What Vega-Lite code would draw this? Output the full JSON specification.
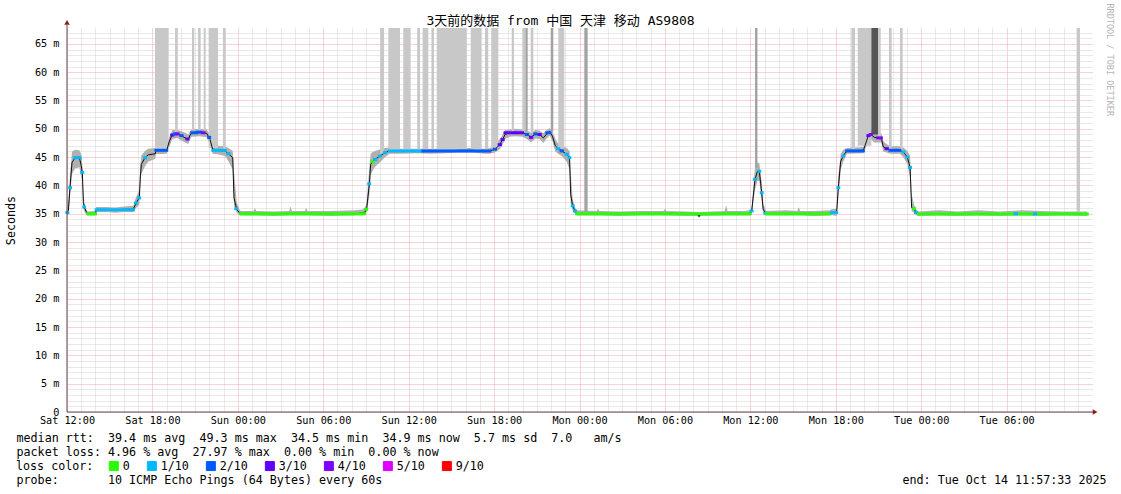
{
  "$schema": "https://vega.github.io/schema/vega-lite/v6.json",
  "width": 1025,
  "height": 384,
  "autosize": {"type": "none"},
  "padding": {"left": 67, "top": 28, "right": 29, "bottom": 82},
  "background": "white",
  "title": {
    "text": "3天前的数据 from 中国 天津 移动 AS9808",
    "font": "DejaVu Sans Mono, Noto Sans CJK SC",
    "fontSize": 13,
    "fontWeight": "normal",
    "color": "#000000",
    "anchor": "middle",
    "dx": -19,
    "dy": 37,
    "offset": 2,
    "baseline": "alphabetic"
  },
  "config": {
    "view": {"stroke": null},
    "font": "DejaVu Sans Mono, Noto Sans CJK SC",
    "axis": {
      "labelFont": "DejaVu Sans Mono, Noto Sans CJK SC",
      "labelFontSize": 10.2,
      "labelColor": "#000000",
      "titleFont": "DejaVu Sans Mono, Noto Sans CJK SC",
      "titleFontSize": 11.7,
      "titleFontWeight": "normal",
      "titleColor": "#000000",
      "ticks": false,
      "tickSize": 0,
      "domain": false,
      "zindex": 0,
      "gridDash": [1, 1],
      "gridWidth": 1,
      "labelFlush": false,
      "labelOverlap": false,
      "labelBound": false
    }
  },
  "datasets": {
    "med": [
      {"t":0.0,"m":35.2,"lo":34.7,"hi":36.0},
      {"t":0.1,"m":35.6,"lo":35.0,"hi":37.5},
      {"t":0.21,"m":39.6,"lo":38.0,"hi":41.5},
      {"t":0.35,"m":44.0,"lo":42.0,"hi":46.0},
      {"t":0.56,"m":44.9,"lo":43.0,"hi":46.3},
      {"t":0.87,"m":44.9,"lo":43.2,"hi":46.2},
      {"t":1.0,"m":43.5,"lo":41.5,"hi":45.5},
      {"t":1.08,"m":42.1,"lo":40.5,"hi":43.5},
      {"t":1.15,"m":37.0,"lo":36.0,"hi":39.0},
      {"t":1.22,"m":36.1,"lo":35.4,"hi":37.0},
      {"t":1.38,"m":35.2,"lo":34.8,"hi":35.7},
      {"t":1.45,"m":35.0,"lo":34.7,"hi":35.4},
      {"t":2.0,"m":35.0,"lo":34.7,"hi":35.5},
      {"t":2.05,"m":35.7,"lo":35.3,"hi":36.2},
      {"t":2.8,"m":35.7,"lo":35.3,"hi":36.2},
      {"t":3.4,"m":35.6,"lo":35.2,"hi":36.1},
      {"t":4.0,"m":35.8,"lo":35.3,"hi":36.3},
      {"t":4.66,"m":35.8,"lo":35.3,"hi":36.4},
      {"t":4.85,"m":36.9,"lo":36.0,"hi":37.9},
      {"t":5.08,"m":37.8,"lo":36.6,"hi":39.2},
      {"t":5.15,"m":41.5,"lo":39.8,"hi":43.6},
      {"t":5.22,"m":43.7,"lo":42.0,"hi":45.3},
      {"t":5.48,"m":44.9,"lo":43.4,"hi":46.1},
      {"t":5.7,"m":45.4,"lo":44.2,"hi":46.5},
      {"t":6.2,"m":45.6,"lo":44.7,"hi":46.6},
      {"t":6.25,"m":46.2,"lo":45.5,"hi":46.9},
      {"t":7.0,"m":46.2,"lo":45.6,"hi":47.0},
      {"t":7.19,"m":47.8,"lo":46.8,"hi":48.6},
      {"t":7.4,"m":49.0,"lo":48.2,"hi":49.8},
      {"t":7.75,"m":49.1,"lo":48.4,"hi":49.8},
      {"t":8.0,"m":48.8,"lo":48.0,"hi":49.6},
      {"t":8.3,"m":48.4,"lo":47.6,"hi":49.3},
      {"t":8.52,"m":48.1,"lo":47.3,"hi":49.0},
      {"t":8.65,"m":48.9,"lo":48.2,"hi":49.6},
      {"t":8.76,"m":49.3,"lo":48.6,"hi":49.9},
      {"t":9.3,"m":49.4,"lo":48.7,"hi":50.0},
      {"t":9.81,"m":49.2,"lo":48.5,"hi":49.9},
      {"t":10.05,"m":48.1,"lo":47.2,"hi":49.0},
      {"t":10.23,"m":46.4,"lo":45.6,"hi":47.4},
      {"t":10.6,"m":46.2,"lo":45.5,"hi":47.0},
      {"t":11.1,"m":46.1,"lo":45.2,"hi":46.9},
      {"t":11.33,"m":45.6,"lo":44.3,"hi":46.6},
      {"t":11.64,"m":44.9,"lo":42.8,"hi":46.1},
      {"t":11.73,"m":37.8,"lo":36.4,"hi":42.5},
      {"t":11.92,"m":35.8,"lo":35.2,"hi":37.0},
      {"t":12.1,"m":35.2,"lo":34.8,"hi":35.8},
      {"t":12.2,"m":35.0,"lo":34.7,"hi":35.5},
      {"t":13.1,"m":35.0,"lo":34.7,"hi":35.5},
      {"t":13.2,"m":35.0,"lo":34.7,"hi":36.0},
      {"t":13.3,"m":35.0,"lo":34.7,"hi":35.5},
      {"t":14.5,"m":34.9,"lo":34.6,"hi":35.4},
      {"t":15.6,"m":35.0,"lo":34.7,"hi":35.5},
      {"t":15.7,"m":35.0,"lo":34.7,"hi":36.3},
      {"t":15.8,"m":35.0,"lo":34.7,"hi":35.5},
      {"t":16.7,"m":35.0,"lo":34.7,"hi":35.5},
      {"t":16.8,"m":35.0,"lo":34.7,"hi":36.0},
      {"t":16.9,"m":35.0,"lo":34.7,"hi":35.5},
      {"t":18.5,"m":34.9,"lo":34.6,"hi":35.5},
      {"t":20.2,"m":35.0,"lo":34.7,"hi":35.6},
      {"t":20.9,"m":35.2,"lo":34.8,"hi":35.8},
      {"t":21.05,"m":35.9,"lo":35.3,"hi":37.0},
      {"t":21.24,"m":40.3,"lo":38.3,"hi":43.2},
      {"t":21.33,"m":43.7,"lo":41.8,"hi":45.6},
      {"t":21.47,"m":44.2,"lo":42.6,"hi":45.9},
      {"t":21.64,"m":44.6,"lo":43.3,"hi":46.1},
      {"t":21.99,"m":45.2,"lo":44.1,"hi":46.4},
      {"t":22.34,"m":45.8,"lo":45.0,"hi":46.6},
      {"t":22.64,"m":46.1,"lo":45.6,"hi":46.7},
      {"t":23.5,"m":46.0,"lo":45.6,"hi":46.5},
      {"t":24.5,"m":46.1,"lo":45.7,"hi":46.5},
      {"t":25.5,"m":46.0,"lo":45.6,"hi":46.5},
      {"t":26.5,"m":46.1,"lo":45.7,"hi":46.5},
      {"t":27.5,"m":46.2,"lo":45.8,"hi":46.6},
      {"t":28.5,"m":46.2,"lo":45.8,"hi":46.6},
      {"t":29.3,"m":46.0,"lo":45.6,"hi":46.5},
      {"t":29.7,"m":46.1,"lo":45.6,"hi":46.6},
      {"t":30.06,"m":46.4,"lo":45.8,"hi":47.2},
      {"t":30.4,"m":47.2,"lo":46.4,"hi":48.2},
      {"t":30.6,"m":48.1,"lo":47.2,"hi":49.0},
      {"t":30.77,"m":49.0,"lo":48.2,"hi":49.8},
      {"t":31.1,"m":49.3,"lo":48.6,"hi":49.9},
      {"t":31.5,"m":49.4,"lo":48.7,"hi":50.0},
      {"t":32.0,"m":49.3,"lo":48.6,"hi":49.9},
      {"t":32.3,"m":49.0,"lo":48.2,"hi":49.7},
      {"t":32.6,"m":48.5,"lo":47.6,"hi":49.3},
      {"t":32.9,"m":49.1,"lo":48.3,"hi":49.8},
      {"t":33.2,"m":49.0,"lo":48.2,"hi":49.7},
      {"t":33.46,"m":48.4,"lo":47.5,"hi":49.2},
      {"t":33.7,"m":49.1,"lo":48.3,"hi":49.8},
      {"t":33.9,"m":49.5,"lo":48.8,"hi":50.1},
      {"t":34.1,"m":48.7,"lo":47.8,"hi":49.6},
      {"t":34.3,"m":47.0,"lo":46.0,"hi":48.2},
      {"t":34.5,"m":46.5,"lo":45.6,"hi":47.4},
      {"t":34.75,"m":46.1,"lo":45.2,"hi":47.0},
      {"t":35.1,"m":45.5,"lo":44.2,"hi":46.6},
      {"t":35.3,"m":44.9,"lo":42.8,"hi":46.1},
      {"t":35.38,"m":38.4,"lo":36.8,"hi":42.5},
      {"t":35.52,"m":36.4,"lo":35.6,"hi":37.6},
      {"t":35.68,"m":35.5,"lo":35.0,"hi":36.2},
      {"t":35.8,"m":35.0,"lo":34.7,"hi":35.6},
      {"t":37.2,"m":35.0,"lo":34.7,"hi":35.5},
      {"t":37.3,"m":35.0,"lo":34.7,"hi":35.9},
      {"t":37.4,"m":35.0,"lo":34.7,"hi":35.5},
      {"t":38.8,"m":34.9,"lo":34.6,"hi":35.4},
      {"t":40.3,"m":35.0,"lo":34.7,"hi":35.5},
      {"t":41.9,"m":35.0,"lo":34.7,"hi":35.5},
      {"t":42.0,"m":35.0,"lo":34.7,"hi":35.9},
      {"t":42.1,"m":35.0,"lo":34.7,"hi":35.5},
      {"t":43.5,"m":34.9,"lo":34.6,"hi":35.4},
      {"t":44.3,"m":34.9,"lo":34.6,"hi":35.3},
      {"t":44.4,"m":34.5,"lo":34.3,"hi":35.0},
      {"t":44.5,"m":34.9,"lo":34.6,"hi":35.3},
      {"t":46.2,"m":35.0,"lo":34.7,"hi":35.5},
      {"t":46.3,"m":35.0,"lo":34.7,"hi":36.5},
      {"t":46.4,"m":35.0,"lo":34.7,"hi":35.5},
      {"t":47.5,"m":35.0,"lo":34.7,"hi":35.5},
      {"t":48.0,"m":35.1,"lo":34.7,"hi":35.6},
      {"t":48.1,"m":35.5,"lo":35.0,"hi":36.3},
      {"t":48.33,"m":41.1,"lo":39.3,"hi":43.2},
      {"t":48.5,"m":42.5,"lo":40.8,"hi":44.1},
      {"t":48.63,"m":42.5,"lo":40.8,"hi":43.9},
      {"t":48.8,"m":38.7,"lo":37.3,"hi":40.7},
      {"t":48.9,"m":35.8,"lo":35.2,"hi":36.8},
      {"t":49.08,"m":35.1,"lo":34.7,"hi":35.6},
      {"t":49.15,"m":35.0,"lo":34.7,"hi":35.5},
      {"t":50.5,"m":35.0,"lo":34.7,"hi":35.6},
      {"t":51.3,"m":35.0,"lo":34.7,"hi":35.5},
      {"t":51.4,"m":35.0,"lo":34.7,"hi":36.2},
      {"t":51.5,"m":35.0,"lo":34.7,"hi":35.5},
      {"t":52.5,"m":34.9,"lo":34.6,"hi":35.5},
      {"t":53.6,"m":35.0,"lo":34.7,"hi":35.6},
      {"t":53.7,"m":35.2,"lo":34.8,"hi":35.8},
      {"t":54.06,"m":35.2,"lo":34.6,"hi":35.9},
      {"t":54.18,"m":39.6,"lo":37.8,"hi":41.7},
      {"t":54.35,"m":44.3,"lo":42.8,"hi":45.6},
      {"t":54.53,"m":45.2,"lo":44.2,"hi":46.3},
      {"t":54.77,"m":46.1,"lo":45.6,"hi":46.6},
      {"t":55.94,"m":46.2,"lo":45.7,"hi":46.8},
      {"t":56.05,"m":47.0,"lo":46.2,"hi":47.8},
      {"t":56.29,"m":48.8,"lo":48.0,"hi":49.6},
      {"t":56.46,"m":49.0,"lo":48.2,"hi":49.8},
      {"t":56.7,"m":48.5,"lo":47.6,"hi":49.5},
      {"t":57.0,"m":48.4,"lo":47.6,"hi":49.2},
      {"t":57.2,"m":48.4,"lo":47.6,"hi":49.2},
      {"t":57.34,"m":46.8,"lo":46.0,"hi":47.8},
      {"t":57.58,"m":46.5,"lo":45.8,"hi":47.3},
      {"t":57.81,"m":46.2,"lo":45.6,"hi":46.9},
      {"t":58.51,"m":46.2,"lo":45.6,"hi":46.9},
      {"t":58.75,"m":45.9,"lo":45.0,"hi":46.7},
      {"t":59.03,"m":45.0,"lo":43.8,"hi":46.1},
      {"t":59.22,"m":43.2,"lo":41.3,"hi":45.2},
      {"t":59.33,"m":36.1,"lo":35.5,"hi":38.5},
      {"t":59.5,"m":35.9,"lo":35.2,"hi":36.6},
      {"t":59.64,"m":35.2,"lo":34.8,"hi":35.8},
      {"t":59.8,"m":34.9,"lo":34.6,"hi":35.4},
      {"t":61.2,"m":35.0,"lo":34.7,"hi":35.6},
      {"t":62.6,"m":34.9,"lo":34.6,"hi":35.4},
      {"t":64.0,"m":35.0,"lo":34.7,"hi":35.6},
      {"t":65.5,"m":34.9,"lo":34.6,"hi":35.4},
      {"t":67.0,"m":35.0,"lo":34.7,"hi":35.6},
      {"t":68.5,"m":34.9,"lo":34.6,"hi":35.5},
      {"t":70.0,"m":35.0,"lo":34.7,"hi":35.4},
      {"t":71.67,"m":34.9,"lo":34.6,"hi":35.4}
    ],
    "loss": [
      {"t0":0.0,"t1":0.06,"m":35.2,"c":"1/10"},
      {"t0":0.19,"t1":0.25,"m":39.6,"c":"1/10"},
      {"t0":0.52,"t1":0.62,"m":44.9,"c":"1/10"},
      {"t0":0.82,"t1":0.92,"m":44.9,"c":"1/10"},
      {"t0":1.04,"t1":1.1,"m":42.3,"c":"1/10"},
      {"t0":1.18,"t1":1.22,"m":36.2,"c":"1/10"},
      {"t0":1.45,"t1":2.0,"m":35.0,"c":"0"},
      {"t0":2.05,"t1":4.66,"m":35.7,"c":"1/10"},
      {"t0":4.82,"t1":4.88,"m":36.9,"c":"1/10"},
      {"t0":5.04,"t1":5.1,"m":37.8,"c":"1/10"},
      {"t0":5.45,"t1":5.52,"m":44.9,"c":"1/10"},
      {"t0":6.25,"t1":7.0,"m":46.2,"c":"2/10"},
      {"t0":7.36,"t1":7.44,"m":48.9,"c":"3/10"},
      {"t0":7.55,"t1":7.62,"m":49.1,"c":"2/10"},
      {"t0":7.72,"t1":7.8,"m":49.1,"c":"4/10"},
      {"t0":8.0,"t1":8.08,"m":48.8,"c":"2/10"},
      {"t0":8.42,"t1":8.5,"m":48.2,"c":"3/10"},
      {"t0":8.76,"t1":9.1,"m":49.3,"c":"2/10"},
      {"t0":9.15,"t1":9.4,"m":49.4,"c":"2/10"},
      {"t0":9.52,"t1":9.62,"m":49.3,"c":"4/10"},
      {"t0":9.95,"t1":10.02,"m":48.5,"c":"2/10"},
      {"t0":10.25,"t1":11.1,"m":46.2,"c":"1/10"},
      {"t0":11.3,"t1":11.38,"m":45.6,"c":"1/10"},
      {"t0":11.86,"t1":11.92,"m":35.9,"c":"1/10"},
      {"t0":12.2,"t1":20.9,"m":35.0,"c":"0"},
      {"t0":20.95,"t1":21.05,"m":35.8,"c":"0"},
      {"t0":21.2,"t1":21.26,"m":40.3,"c":"1/10"},
      {"t0":21.42,"t1":21.5,"m":44.2,"c":"0"},
      {"t0":21.6,"t1":21.68,"m":44.6,"c":"1/10"},
      {"t0":21.95,"t1":22.03,"m":45.2,"c":"1/10"},
      {"t0":22.3,"t1":22.38,"m":45.8,"c":"1/10"},
      {"t0":22.64,"t1":25.0,"m":46.1,"c":"1/10"},
      {"t0":25.0,"t1":29.7,"m":46.1,"c":"2/10"},
      {"t0":30.02,"t1":30.1,"m":46.4,"c":"2/10"},
      {"t0":30.36,"t1":30.44,"m":47.2,"c":"3/10"},
      {"t0":30.56,"t1":30.64,"m":48.1,"c":"3/10"},
      {"t0":30.77,"t1":32.0,"m":49.3,"c":"3/10"},
      {"t0":32.26,"t1":32.34,"m":49.0,"c":"2/10"},
      {"t0":32.56,"t1":32.64,"m":48.5,"c":"3/10"},
      {"t0":32.86,"t1":32.94,"m":49.1,"c":"2/10"},
      {"t0":33.16,"t1":33.24,"m":49.0,"c":"3/10"},
      {"t0":33.7,"t1":33.92,"m":49.3,"c":"2/10"},
      {"t0":34.46,"t1":34.54,"m":46.5,"c":"1/10"},
      {"t0":34.7,"t1":34.8,"m":46.1,"c":"2/10"},
      {"t0":35.06,"t1":35.14,"m":45.5,"c":"1/10"},
      {"t0":35.27,"t1":35.32,"m":44.9,"c":"1/10"},
      {"t0":35.49,"t1":35.55,"m":36.4,"c":"1/10"},
      {"t0":35.65,"t1":35.71,"m":35.5,"c":"1/10"},
      {"t0":35.8,"t1":48.0,"m":35.0,"c":"0"},
      {"t0":48.05,"t1":48.12,"m":35.5,"c":"1/10"},
      {"t0":48.3,"t1":48.36,"m":41.1,"c":"1/10"},
      {"t0":48.6,"t1":48.66,"m":42.5,"c":"1/10"},
      {"t0":48.77,"t1":48.83,"m":38.7,"c":"1/10"},
      {"t0":49.03,"t1":49.1,"m":35.1,"c":"1/10"},
      {"t0":49.15,"t1":53.6,"m":35.0,"c":"0"},
      {"t0":53.7,"t1":54.06,"m":35.2,"c":"1/10"},
      {"t0":54.15,"t1":54.21,"m":39.6,"c":"1/10"},
      {"t0":54.5,"t1":54.56,"m":45.2,"c":"1/10"},
      {"t0":54.77,"t1":55.94,"m":46.1,"c":"2/10"},
      {"t0":56.26,"t1":56.34,"m":48.8,"c":"3/10"},
      {"t0":56.42,"t1":56.5,"m":49.0,"c":"4/10"},
      {"t0":56.95,"t1":57.2,"m":48.4,"c":"4/10"},
      {"t0":57.54,"t1":57.62,"m":46.5,"c":"3/10"},
      {"t0":57.81,"t1":58.5,"m":46.2,"c":"2/10"},
      {"t0":58.72,"t1":58.78,"m":45.9,"c":"1/10"},
      {"t0":59.0,"t1":59.06,"m":45.0,"c":"1/10"},
      {"t0":59.19,"t1":59.25,"m":43.2,"c":"1/10"},
      {"t0":59.47,"t1":59.53,"m":35.9,"c":"0"},
      {"t0":59.6,"t1":59.68,"m":35.2,"c":"1/10"},
      {"t0":59.8,"t1":71.67,"m":34.95,"c":"0"},
      {"t0":66.6,"t1":66.7,"m":35.0,"c":"1/10"},
      {"t0":67.95,"t1":68.05,"m":35.0,"c":"1/10"}
    ],
    "spikes": [
      {"t0":6.18,"t1":7.14,"b":46.5,"g":"l"},
      {"t0":7.59,"t1":7.78,"b":49.5,"g":"l"},
      {"t0":8.78,"t1":8.94,"b":49.8,"g":"l"},
      {"t0":9.2,"t1":9.39,"b":49.8,"g":"l"},
      {"t0":9.6,"t1":9.74,"b":49.8,"g":"l"},
      {"t0":9.95,"t1":10.61,"b":46.6,"g":"l"},
      {"t0":10.96,"t1":11.15,"b":46.4,"g":"l"},
      {"t0":22.0,"t1":22.27,"b":45.6,"g":"l"},
      {"t0":22.57,"t1":23.39,"b":46.3,"g":"l"},
      {"t0":23.62,"t1":24.14,"b":46.3,"g":"l"},
      {"t0":24.6,"t1":24.8,"b":46.3,"g":"l"},
      {"t0":24.98,"t1":25.38,"b":46.3,"g":"l"},
      {"t0":25.6,"t1":25.78,"b":46.3,"g":"l"},
      {"t0":25.97,"t1":28.08,"b":46.3,"g":"l"},
      {"t0":28.36,"t1":29.13,"b":46.3,"g":"l"},
      {"t0":29.36,"t1":29.59,"b":46.3,"g":"l"},
      {"t0":29.8,"t1":30.3,"b":46.6,"g":"l"},
      {"t0":31.24,"t1":31.4,"b":49.6,"g":"l"},
      {"t0":31.98,"t1":32.2,"b":49.6,"g":"l"},
      {"t0":32.2,"t1":32.36,"b":49.6,"g":"m"},
      {"t0":32.57,"t1":32.76,"b":49.2,"g":"l"},
      {"t0":33.98,"t1":34.16,"b":49.5,"g":"m"},
      {"t0":34.51,"t1":34.93,"b":46.5,"g":"l"},
      {"t0":36.34,"t1":36.57,"b":35.2,"g":"m"},
      {"t0":48.33,"t1":48.5,"b":43.1,"g":"m"},
      {"t0":55.1,"t1":55.35,"b":46.4,"g":"l"},
      {"t0":55.54,"t1":56.5,"b":47.0,"g":"l"},
      {"t0":56.5,"t1":56.97,"b":49.0,"g":"d"},
      {"t0":56.97,"t1":57.16,"b":48.6,"g":"l"},
      {"t0":57.74,"t1":57.93,"b":46.5,"g":"l"},
      {"t0":58.51,"t1":58.7,"b":46.3,"g":"l"},
      {"t0":70.92,"t1":71.16,"b":35.3,"g":"l"}
    ]
  },
  "layer": [
    {
      "data": {"name": "med"},
      "mark": {"type": "area", "color": "#b0b0b0"},
      "encoding": {
        "x": {
          "field": "t", "type": "quantitative",
          "scale": {"domain": [0, 72], "nice": false, "zero": false},
          "axis": {
            "orient": "bottom",
            "values": [1,2,3,4,5,7,8,9,10,11,13,14,15,16,17,19,20,21,22,23,25,26,27,28,29,31,32,33,34,35,37,38,39,40,41,43,44,45,46,47,49,50,51,52,53,55,56,57,58,59,61,62,63,64,65,67,68,69,70,71],
            "grid": true, "gridColor": "#d2d2d2",
            "labels": false,
            "title": "end: Tue Oct 14 11:57:33 2025",
            "titleX": 835, "titleY": 62,
            "titleAlign": "left", "titleAnchor": "start", "titleBaseline": "top", "titleAngle": 0
          }
        },
        "y": {
          "field": "lo", "type": "quantitative",
          "scale": {"domain": [0, 67.8], "nice": false, "zero": true},
          "axis": {
            "orient": "left",
            "values": [1,2,3,4,6,7,8,9,11,12,13,14,16,17,18,19,21,22,23,24,26,27,28,29,31,32,33,34,36,37,38,39,41,42,43,44,46,47,48,49,51,52,53,54,56,57,58,59,61,62,63,64,66,67],
            "grid": true, "gridColor": "#d2d2d2",
            "labels": false,
            "title": null
          }
        },
        "y2": {"field": "hi"}
      }
    },
    {
      "data": {"name": "spikes"},
      "mark": {"type": "rect"},
      "encoding": {
        "x": {
          "field": "t0", "type": "quantitative",
          "scale": {"domain": [0, 72], "nice": false, "zero": false},
          "axis": {
            "orient": "bottom",
            "values": [0,6,12,18,24,30,36,42,48,54,60,66],
            "grid": true, "gridColor": "#f2a6a6",
            "labelExpr": "['Sat 12:00','Sat 18:00','Sun 00:00','Sun 06:00','Sun 12:00','Sun 18:00','Mon 00:00','Mon 06:00','Mon 12:00','Mon 18:00','Tue 00:00','Tue 06:00'][round(datum.value/6)]",
            "labelPadding": 3,
            "labelAlign": "center",
            "title": ["median rtt:\u00a0\u00a039.4 ms avg\u00a0\u00a049.3 ms max\u00a0\u00a034.5 ms min\u00a0\u00a034.9 ms now\u00a0\u00a05.7 ms sd\u00a0\u00a07.0\u00a0\u00a0\u00a0am/s", "packet loss: 4.96 % avg\u00a0\u00a027.97 % max\u00a0\u00a00.00 % min\u00a0\u00a00.00 % now", "\u200b", "probe:\u00a0\u00a0\u00a0\u00a0\u00a0\u00a0\u00a010 ICMP Echo Pings (64 Bytes) every 60s"],
            "titleX": -51, "titleY": 20,
            "titleAlign": "left", "titleAnchor": "start", "titleBaseline": "top", "titleAngle": 0,
            "titleLineHeight": 14
          }
        },
        "x2": {"field": "t1"},
        "y": {
          "field": "b", "type": "quantitative",
          "scale": {"domain": [0, 67.8], "nice": false, "zero": true},
          "axis": {
            "orient": "left",
            "values": [0,5,10,15,20,25,30,35,40,45,50,55,60,65],
            "grid": true, "gridColor": "#f2a6a6",
            "labelExpr": "datum.value == 0 ? '0' : datum.value + ' m'",
            "labelPadding": 8,
            "title": "Seconds",
            "titleX": -57, "titleY": 192,
            "titleAngle": -90, "titleAlign": "center", "titleBaseline": "middle", "titleAnchor": "middle"
          }
        },
        "y2": {"datum": 67.8},
        "fill": {
          "field": "g", "type": "nominal",
          "scale": {"domain": ["l", "m", "d"], "range": ["#c8c8c8", "#a2a2a2", "#555555"]},
          "legend": null
        }
      }
    },
    {
      "data": {"name": "med"},
      "mark": {"type": "line", "color": "#111111", "strokeWidth": 1},
      "encoding": {
        "x": {"field": "t", "type": "quantitative", "scale": {"domain": [0, 72], "nice": false, "zero": false}, "axis": null},
        "y": {"field": "m", "type": "quantitative", "scale": {"domain": [0, 67.8], "nice": false, "zero": true}, "axis": null}
      }
    },
    {
      "data": {"name": "loss"},
      "mark": {"type": "rule", "strokeWidth": 3, "strokeCap": "square"},
      "encoding": {
        "x": {"field": "t0", "type": "quantitative", "scale": {"domain": [0, 72], "nice": false, "zero": false}, "axis": null},
        "x2": {"field": "t1"},
        "y": {"field": "m", "type": "quantitative", "scale": {"domain": [0, 67.8], "nice": false, "zero": true}, "axis": null},
        "color": {
          "field": "c", "type": "nominal",
          "scale": {"domain": ["0", "1/10", "2/10", "3/10", "4/10", "5/10", "9/10"], "range": ["#26ff00", "#00b8ff", "#0059ff", "#5e00ff", "#7e00ff", "#dd00ff", "#ff0000"]},
          "legend": {
            "title": "loss color:",
            "orient": "none",
            "legendX": -51,
            "legendY": 432,
            "direction": "horizontal",
            "titleOrient": "left",
            "titleFont": "DejaVu Sans Mono, Noto Sans CJK SC",
            "titleFontSize": 11.7,
            "titleFontWeight": "normal",
            "titleColor": "#000000",
            "titlePadding": 14,
            "labelFont": "DejaVu Sans Mono, Noto Sans CJK SC",
            "labelFontSize": 11.7,
            "labelColor": "#000000",
            "labelOffset": 3,
            "columnPadding": 15,
            "symbolType": "square",
            "symbolSize": 81,
            "symbolStrokeWidth": 1,
            "symbolStrokeColor": "#000000",
            "padding": 0,
            "encode": {
              "symbols": {
                "update": {
                  "fill": {"scale": "color", "field": "value"},
                  "stroke": {"value": "#000000"},
                  "strokeWidth": {"value": 1},
                  "opacity": {"value": 1}
                }
              }
            }
          }
        }
      }
    },
    {
      "data": {"values": [{}]},
      "mark": {"type": "rule", "color": "#604848", "strokeWidth": 1},
      "encoding": {
        "x": {"datum": 0, "type": "quantitative", "scale": {"domain": [0, 72], "nice": false, "zero": false}, "axis": null},
        "y": {"datum": 0, "type": "quantitative", "scale": {"domain": [0, 67.8], "nice": false, "zero": true}, "axis": null},
        "y2": {"datum": 68.4}
      }
    },
    {
      "data": {"values": [{}]},
      "mark": {"type": "rule", "color": "#604848", "strokeWidth": 1},
      "encoding": {
        "x": {"datum": 0, "type": "quantitative", "scale": {"domain": [0, 72], "nice": false, "zero": false}, "axis": null},
        "x2": {"datum": 72.1},
        "y": {"datum": 0, "type": "quantitative", "scale": {"domain": [0, 67.8], "nice": false, "zero": true}, "axis": null}
      }
    },
    {
      "data": {"values": [{}]},
      "mark": {"type": "point", "shape": "triangle-up", "size": 30, "filled": true, "color": "#8b1c1c", "opacity": 1},
      "encoding": {
        "x": {"datum": 0, "type": "quantitative", "scale": {"domain": [0, 72], "nice": false, "zero": false}, "axis": null},
        "y": {"datum": 68.8, "type": "quantitative", "scale": {"domain": [0, 67.8], "nice": false, "zero": true}, "axis": null}
      }
    },
    {
      "data": {"values": [{}]},
      "mark": {"type": "point", "shape": "triangle-right", "size": 30, "filled": true, "color": "#8b1c1c", "opacity": 1},
      "encoding": {
        "x": {"datum": 72.22, "type": "quantitative", "scale": {"domain": [0, 72], "nice": false, "zero": false}, "axis": null},
        "y": {"datum": 0, "type": "quantitative", "scale": {"domain": [0, 67.8], "nice": false, "zero": true}, "axis": null}
      }
    },
    {
      "data": {"values": [{}]},
      "mark": {"type": "text", "text": "RRDTOOL / TOBI OETIKER", "angle": 90, "font": "DejaVu Sans Mono", "fontSize": 8.5, "color": "#b4b4b4", "align": "center", "baseline": "middle"},
      "encoding": {
        "x": {"datum": 73.27, "type": "quantitative", "scale": {"domain": [0, 72], "nice": false, "zero": false}, "axis": null},
        "y": {"datum": 62.2, "type": "quantitative", "scale": {"domain": [0, 67.8], "nice": false, "zero": true}, "axis": null}
      }
    }
  ],
  "resolve": {"axis": {"x": "independent", "y": "independent"}}
}
